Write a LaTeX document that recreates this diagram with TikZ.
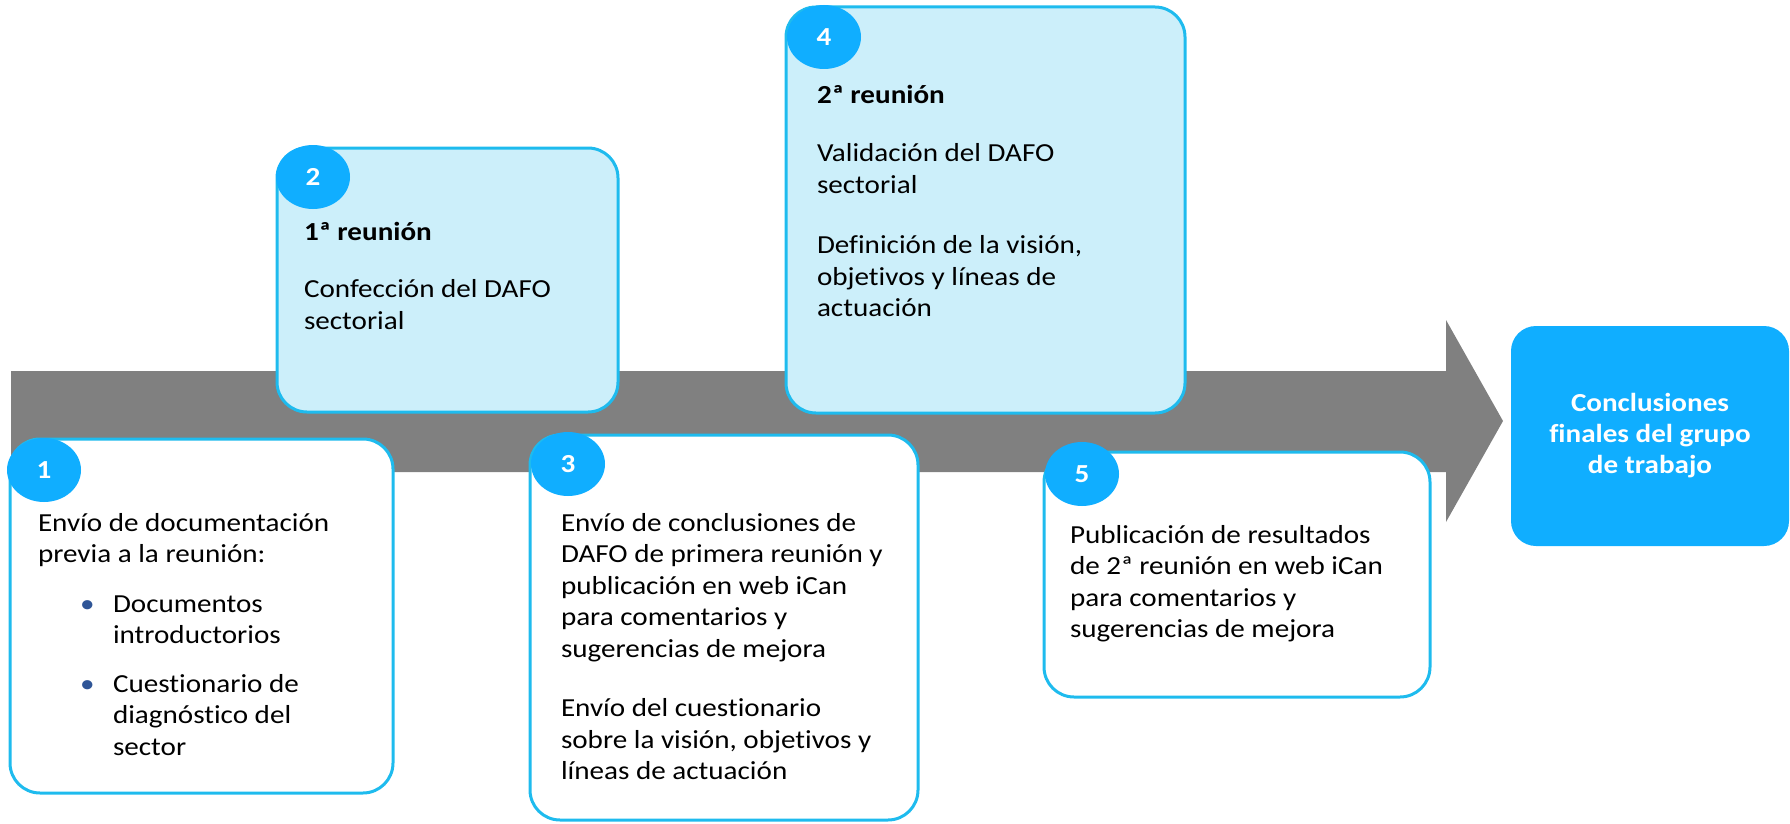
\documentclass[tikz,border=0pt]{standalone}
\usepackage{fontspec}
\setmainfont{Carlito}[FakeStretch=1.12, Ligatures={NoCommon}]
\usetikzlibrary{shapes.geometric, positioning, calc}
\definecolor{boxline}{HTML}{1EBBEE}
\definecolor{boxfill}{HTML}{CCEFFA}
\definecolor{stepblue}{HTML}{10AEFF}
\definecolor{arrowgrey}{HTML}{808080}
\definecolor{bulletblue}{HTML}{2F5597}

\begin{document}
\begin{tikzpicture}[x=1pt, y=-1pt,
    every node/.style={font=\fontsize{26}{31.5}\selectfont, inner sep=0pt, outer sep=0pt},
    stepbox/.style={draw=boxline, line width=3pt, rounded corners=30pt, anchor=north west},
    stepnum/.style={ellipse, fill=stepblue, minimum width=74pt, minimum height=64pt,
        text=white, font=\fontsize{26}{31.5}\selectfont\bfseries},
    steptext/.style={anchor=north west, align=left}]

    \useasboundingbox (0,0) rectangle (1790,824);

    % Grey time arrow
    \fill[arrowgrey] (11,371) -- (1446,371) -- (1446,320) -- (1503,421)
        -- (1446,522) -- (1446,472) -- (11,472) -- cycle;

    % Step boxes (white below the arrow, light blue above)
    \node[stepbox, fill=white, minimum width=383pt, minimum height=354pt] (box1) at (10,439) {};
    \node[stepbox, fill=boxfill, minimum width=341pt, minimum height=264pt] (box2) at (277,148) {};
    \node[stepbox, fill=white, minimum width=388pt, minimum height=385pt] (box3) at (530,435) {};
    \node[stepbox, fill=boxfill, minimum width=399pt, minimum height=406pt] (box4) at (786,7) {};
    \node[stepbox, fill=white, minimum width=386pt, minimum height=245pt] (box5) at (1044,452) {};

    % Numbered badges
    \foreach \n/\dx/\dy in {1/34/31, 2/36/29, 3/38/29, 4/38/30, 5/38/22} {
        \node[stepnum] (num\n) at ($(box\n.north west)+(\dx,\dy)$) {\n};
    }

    % Box texts
    \node[steptext] (txt1) at ($(box1.north west)+(28,74)$)
        {Envío de documentación\\previa a la reunión:\\[18pt]
         \hspace*{42pt}\makebox[33pt][l]{\textcolor{bulletblue}{•}}Documentos\\
         \hspace*{75pt}introductorios\\[17pt]
         \hspace*{42pt}\makebox[33pt][l]{\textcolor{bulletblue}{•}}Cuestionario de\\
         \hspace*{75pt}diagnóstico del\\
         \hspace*{75pt}sector};
    \node[steptext] (txt2) at ($(box2.north west)+(27,74)$)
        {\textbf{1ª reunión}\\[26pt]Confección del DAFO\\sectorial};
    \node[steptext] (txt3) at ($(box3.north west)+(31,78)$)
        {Envío de conclusiones de\\DAFO de primera reunión y\\publicación en web iCan\\para comentarios y\\sugerencias de mejora\\[28pt]
         Envío del cuestionario\\sobre la visión, objetivos y\\líneas de actuación};
    \node[steptext] (txt4) at ($(box4.north west)+(31,78)$)
        {\textbf{2ª reunión}\\[27pt]Validación del DAFO\\sectorial\\[29pt]
         Definición de la visión,\\objetivos y líneas de\\actuación};
    \node[steptext] (txt5) at ($(box5.north west)+(26,73)$)
        {Publicación de resultados\\de 2ª reunión en web iCan\\para comentarios y\\sugerencias de mejora};

    % Final result
    \node[fill=stepblue, rounded corners=25pt, minimum width=278pt, minimum height=220pt,
        text=white, align=center, font=\fontsize{26}{31}\selectfont\bfseries]
        (final) at (1650,436) {Conclusiones\\finales del grupo\\de trabajo};

\end{tikzpicture}
\end{document}
